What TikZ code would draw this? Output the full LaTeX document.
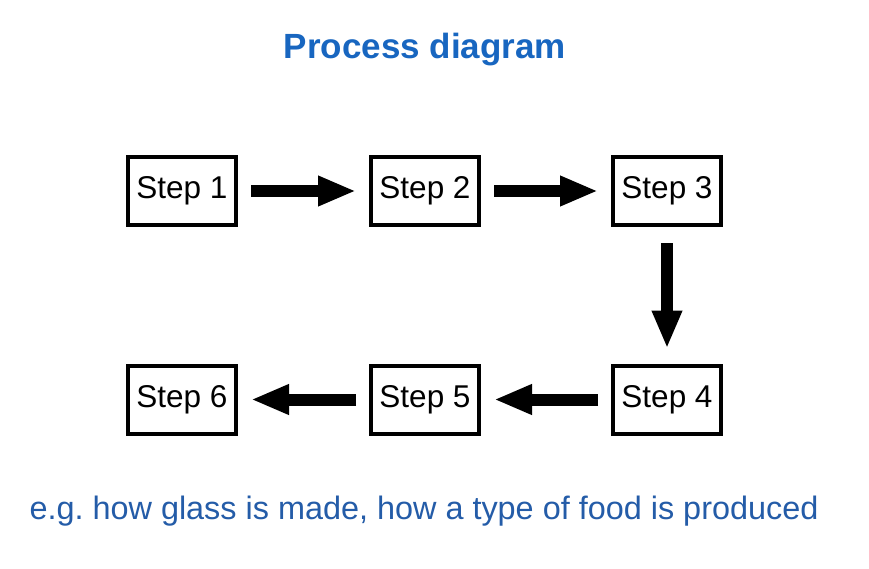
\documentclass[tikz,border=0pt]{standalone}
\usepackage{fontspec}
\setmainfont{Liberation Sans}
\usetikzlibrary{arrows.meta}
\definecolor{titleblue}{RGB}{24,102,192}
\definecolor{noteblue}{RGB}{36,92,168}
\tikzset{
  stepbox/.style={draw=black, line width=4pt, fill=white, minimum width=108pt,
    minimum height=68pt, inner sep=0pt, font=\fontsize{31.5}{36}\selectfont},
  flow/.style={line width=12pt, black, line cap=butt,
    -{Triangle[length=38pt,width=28pt]}, shorten <=13pt, shorten >=13pt},
}
\frenchspacing
\begin{document}
\begin{tikzpicture}[x=1pt,y=-1pt]
  \useasboundingbox (0,0) rectangle (869,569);
  \fill[white] (0,0) rectangle (869,569);

  % title
  \node[anchor=base, text=titleblue, font=\fontsize{35}{42}\selectfont\bfseries]
    (title) at (425,59) {Process diagram};

  % steps
  \node[stepbox] (s1) at (182,191) {Step 1};
  \node[stepbox] (s2) at (425,191) {Step 2};
  \node[stepbox] (s3) at (667,191) {Step 3};
  \node[stepbox] (s4) at (667,399.5) {Step 4};
  \node[stepbox] (s5) at (425,399.5) {Step 5};
  \node[stepbox] (s6) at (182,399.5) {Step 6};

  % connectors
  \draw[flow] (s1.east) -- (s2.west);
  \draw[flow] (s2.east) -- (s3.west);
  \draw[flow, shorten <=16pt, shorten >=15pt] (s3.south) -- (s4.north);
  \draw[flow] (s4.west) -- (s5.east);
  \draw[flow] (s5.west) -- (s6.east);

  % example note
  \node[anchor=base, text=noteblue, font=\fontsize{32.4}{38}\selectfont]
    (note) at (424,519) {e.g. how glass is made, how a type of food is produced};
\end{tikzpicture}
\end{document}
